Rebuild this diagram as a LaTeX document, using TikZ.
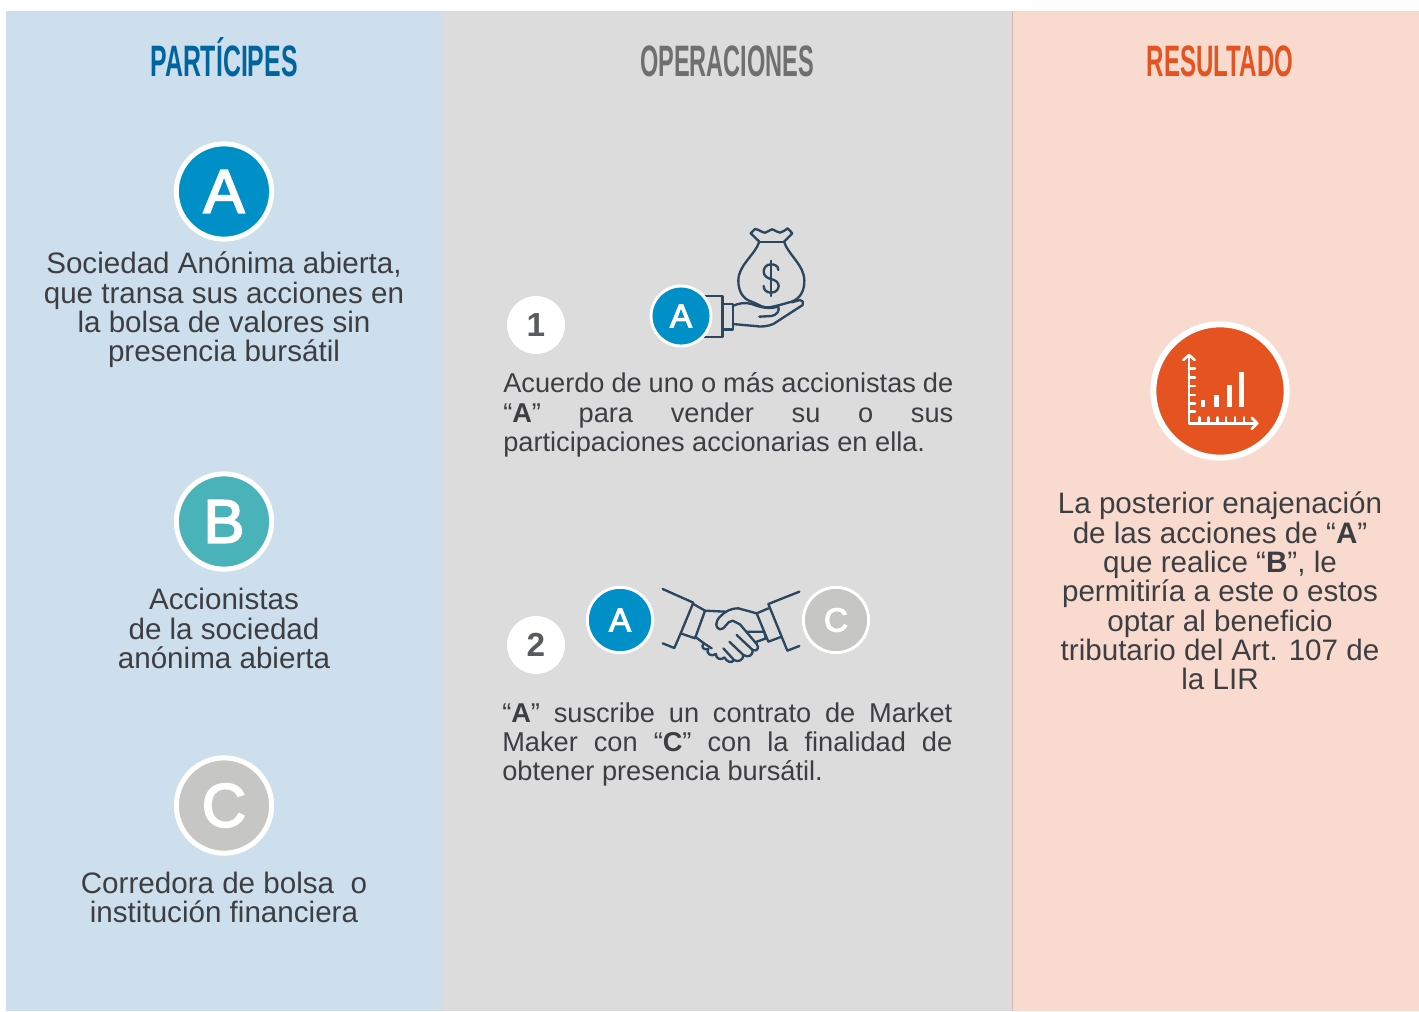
\documentclass[tikz,border=0pt]{standalone}
\usepackage{fontspec}
\setmainfont{Liberation Sans}
\newfontfamily\condfont[FakeStretch=0.565]{Liberation Sans Bold}
\newfontfamily\condfontb[FakeStretch=0.535]{Liberation Sans Bold}
\newfontfamily\condfontc[FakeStretch=0.547]{Liberation Sans Bold}
\newfontfamily\boldsans{Liberation Sans Bold}
\newfontfamily\medsans[FakeBold=3]{Liberation Sans}
\definecolor{panelblue}{HTML}{CDDFEC}
\definecolor{panelgray}{HTML}{DCDCDC}
\definecolor{panelpeach}{HTML}{F8DBCE}
\definecolor{cA}{HTML}{0090C8}
\definecolor{cB}{HTML}{4AB2B9}
\definecolor{cC}{HTML}{C6C6C4}
\definecolor{cO}{HTML}{E55420}
\definecolor{ink}{HTML}{3D3E42}
\definecolor{navy}{HTML}{2B465F}
\definecolor{tblue}{HTML}{00659F}
\definecolor{tgray}{HTML}{6F6F6F}
\tikzset{
  title/.style={inner sep=0pt,anchor=base},
  body/.style={font=\fontsize{22.2}{22}\selectfont,text=ink,align=center,inner sep=0pt},
  just/.style={font=\fontsize{20.4}{21.9}\selectfont,text=ink,inner sep=0pt,text width=337.5pt,align=justify},
  bigc/.style={circle,draw=white,line width=3.75pt,minimum size=71.5pt,inner sep=0pt,text=white,font=\medsans\fontsize{46}{46}\selectfont},
  midc/.style={circle,draw=white,line width=2.2pt,text=white,inner sep=0pt,font=\medsans\fontsize{25}{25}\selectfont},
  numc/.style={circle,fill=white,minimum size=43.5pt,inner sep=0pt,text=ink!85,font=\boldsans\fontsize{25}{25}\selectfont},
  icon/.style={draw=navy,line width=1.75pt,line join=round,line cap=round},
  chart/.style={draw=white,line width=1.9pt,line cap=round,line join=round},
}
\newcommand{\bb}[1]{{\boldsans #1}}
\begin{document}
\begin{tikzpicture}[x=0.75pt,y=-0.75pt]
\useasboundingbox (0,0) rectangle (1419,1011);
\fill[panelblue] (6,11) rectangle (442,1011);
\fill[panelgray] (442,11) rectangle (1012,1011);
\fill[panelpeach] (1012,11) rectangle (1419,1011);
\draw[panelpeach!85!black,line width=0.4pt] (1012.5,11) -- (1012.5,1011);

\node[title,text=tblue,font=\condfont\fontsize{33}{33}\selectfont] (t1) at (224,76.5) {PARTÍCIPES};
\node[title,text=tgray,font=\condfontb\fontsize{33}{33}\selectfont] (t2) at (727,76.5) {OPERACIONES};
\node[title,text=cO,font=\condfontc\fontsize{33}{33}\selectfont] (t3) at (1220,76.5) {RESULTADO};

\node[bigc,fill=cA] (A) at (224,191.5) {A};
\node[bigc,fill=cB] (B) at (224,521.5) {\raisebox{-1.5pt}{B}};
\node[bigc,fill=cC] (C) at (224,805.5) {\raisebox{-1pt}{C}};

\node[body] (tA) at (224,310) {Sociedad Anónima abierta,\\que transa sus acciones en\\la bolsa de valores sin\\presencia bursátil};
\node[body] (tB) at (224,628.5) {Accionistas\\de la sociedad\\anónima abierta};
\node[body] (tC) at (224,897.5) {Corredora de bolsa\ \ o\\institución financiera};

\node[numc] (n1) at (536,325) {1};
\node[numc] (n2) at (536,645) {2};

% money bag and hand
\begin{scope}[shift={(640,220)},x=0.25pt,y=-0.25pt]
\draw[icon] (358,65) -- (432,65);
\draw[icon] (358,65) -- (332,40) -- (345,27) .. controls (358,28) and (365,38) .. (375,38) .. controls (385,38) and (388,28) .. (395,28) .. controls (403,28) and (410,38) .. (420,38) .. controls (430,38) and (435,28) .. (443,25) -- (457,40) -- (432,65);
\draw[icon] (358,65) .. controls (345,105) and (295,135) .. (295,182) .. controls (295,215) and (310,238) .. (335,245) .. controls (360,255) and (370,265) .. (388,262) .. controls (410,258) and (430,252) .. (455,245) .. controls (480,235) and (493,215) .. (493,182) .. controls (493,135) and (445,105) .. (432,65);
\draw[icon] (415,150) .. controls (415,135) and (400,133) .. (393,133) .. controls (380,133) and (371,142) .. (371,155) .. controls (371,170) and (385,175) .. (393,177) .. controls (405,180) and (416,186) .. (416,198) .. controls (416,210) and (405,218) .. (393,218) .. controls (380,218) and (371,210) .. (371,198);
\draw[icon] (393,122) -- (393,228);
\draw[icon] (190,228) -- (247,228) -- (247,350) -- (190,350);
\draw[icon] (247,252) -- (278,252) -- (278,328) -- (247,328);
\draw[icon] (278,258) .. controls (295,250) and (315,246) .. (335,252) .. controls (360,262) and (385,268) .. (415,260) .. controls (420,272) and (410,285) .. (395,288) -- (358,290);
\draw[icon] (278,312) -- (345,318) .. controls (365,322) and (385,318) .. (400,312) -- (488,255) .. controls (492,248) and (488,240) .. (480,240) -- (455,247);
\end{scope}
\node[midc,fill=cA,minimum size=45pt] (a1) at (681,316) {A};

% handshake
\begin{scope}[shift={(580,580)},x=0.25pt,y=-0.25pt]
\draw[icon] (248,27) -- (340,68) -- (302,160) -- (345,175) -- (375,92) -- (340,72);
\draw[icon] (248,190) -- (283,204) -- (302,160);
\draw[icon] (658,35) -- (565,72) -- (622,212) -- (658,198);
\draw[icon] (565,85) -- (530,100) -- (565,185) -- (605,170);
\draw[icon] (375,92) -- (435,95);
\draw[icon] (530,100) -- (475,85) .. controls (450,85) and (435,95) .. (420,110) .. controls (405,125) and (405,145) .. (420,148) .. controls (435,150) and (440,122) .. (458,122) -- (480,133) -- (530,192) .. controls (540,205) and (530,215) .. (518,210) -- (470,165);
\draw[icon] (518,210) .. controls (520,225) and (505,235) .. (490,225) -- (448,185);
\draw[icon] (490,225) .. controls (490,240) and (475,248) .. (462,240) -- (430,205);
\draw[icon] (345,170) -- (372,190) .. controls (360,200) and (372,212) .. (385,207) .. controls (375,220) and (395,232) .. (408,222) .. controls (405,235) and (425,243) .. (433,232) .. controls (440,245) and (455,252) .. (462,240);
\draw[icon] (372,190) -- (395,205);
\draw[icon] (500,155) -- (552,155) -- (558,175) -- (525,187);
\end{scope}
\node[midc,fill=cA,minimum size=49pt] (a2) at (620,620) {A};
\node[midc,fill=cC,minimum size=49pt] (c2) at (836,620) {C};

\node[just,anchor=north west] (op1) at (503,372.5) {Acuerdo de uno o más accionistas de\linebreak “\bb{A}” para vender su o sus\linebreak participaciones accionarias en ella.};
\node[just,anchor=north west] (op2) at (502,702.5) {“\bb{A}” suscribe un contrato de Market\linebreak Maker con “\bb{C}” con la finalidad de\linebreak obtener presencia bursátil.};

% result
\node[circle,draw=white,line width=4.5pt,fill=cO,minimum size=100pt,inner sep=0pt] (R) at (1220,391) {};
\begin{scope}[shift={(1140,315)},x=0.25pt,y=-0.25pt]
\draw[chart] (147,120) -- (147,325) -- (352,325);
\draw[chart] (130,135) -- (147,120) -- (164,135);
\draw[chart] (335,308) -- (352,325) -- (335,342);
\foreach \yy in {160,187,213,240,265,290} \draw[chart] (147,\yy) -- (165,\yy);
\foreach \xx in {178,205,232,258,285,312} \draw[chart] (\xx,325) -- (\xx,307);
\fill[white] (182,255) rectangle (196,275);
\fill[white] (222,240) rectangle (237,275);
\fill[white] (261,210) rectangle (276,275);
\fill[white] (297,172) rectangle (312,275);
\end{scope}
\node[body] (tR) at (1220,591) {La posterior enajenación\\de las acciones de “\bb{A}”\\que realice “\bb{B}”, le\\permitiría a este o estos\\optar al beneficio\\tributario del Art. 107 de\\la LIR};
\end{tikzpicture}
\end{document}
